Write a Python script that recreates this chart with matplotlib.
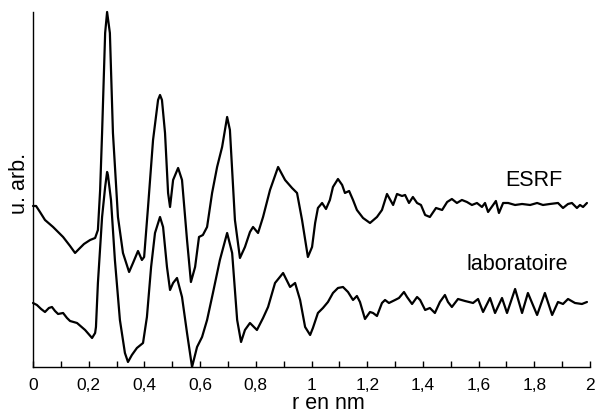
import matplotlib
matplotlib.use("Agg")
import matplotlib.pyplot as plt
from matplotlib.ticker import MultipleLocator, FuncFormatter

plt.rcParams['font.family'] = ['Liberation Sans', 'DejaVu Sans']

# distances r (nm) and intensities (arb. units)
r_esrf = [0.000, 0.011, 0.025, 0.043, 0.072, 0.108, 0.133, 0.151, 0.165, 0.183,
          0.205, 0.223, 0.233, 0.241, 0.248, 0.259, 0.266, 0.276, 0.287, 0.305,
          0.323, 0.345, 0.359, 0.377, 0.391, 0.399, 0.413, 0.431, 0.449, 0.456,
          0.463, 0.474, 0.485, 0.492, 0.503, 0.521, 0.535, 0.553, 0.567, 0.582,
          0.596, 0.610, 0.625, 0.643, 0.661, 0.679, 0.697, 0.707, 0.725, 0.743,
          0.761, 0.779, 0.790, 0.808, 0.826, 0.851, 0.880, 0.905, 0.930, 0.948,
          0.966, 0.987, 1.002, 1.013, 1.023, 1.038, 1.052, 1.066, 1.077, 1.095,
          1.110, 1.120, 1.135, 1.149, 1.163, 1.185, 1.210, 1.235, 1.253, 1.271,
          1.293, 1.307, 1.325, 1.336, 1.350, 1.364, 1.379, 1.393, 1.408, 1.425,
          1.447, 1.469, 1.487, 1.504, 1.522, 1.540, 1.558, 1.576, 1.594, 1.612,
          1.623, 1.634, 1.652, 1.662, 1.673, 1.688, 1.706, 1.731, 1.756, 1.785,
          1.810, 1.831, 1.856, 1.885, 1.903, 1.921, 1.935, 1.953, 1.964, 1.975,
          1.989]
g_esrf = [161, 161, 155, 147, 140, 130, 121, 114, 118, 123,
          127, 129, 137, 177, 234, 334, 355, 334, 234, 150,
          114, 95, 104, 116, 107, 110, 160, 227, 267, 272,
          267, 234, 174, 160, 187, 199, 187, 127, 85, 100,
          130, 132, 140, 174, 200, 220, 250, 237, 147, 109,
          120, 135, 140, 134, 150, 177, 200, 187, 179, 174,
          147, 110, 120, 144, 159, 164, 158, 167, 180, 188,
          182, 174, 176, 167, 157, 149, 144, 150, 157, 173,
          162, 173, 171, 172, 164, 170, 164, 162, 152, 150,
          159, 157, 165, 168, 164, 167, 165, 162, 164, 160,
          164, 155, 162, 166, 154, 164, 164, 162, 163, 162,
          164, 162, 163, 164, 159, 163, 164, 159, 162, 160,
          164]

r_labo = [0.000, 0.014, 0.029, 0.043, 0.057, 0.068, 0.079, 0.090, 0.108, 0.122,
          0.133, 0.158, 0.187, 0.212, 0.223, 0.226, 0.233, 0.248, 0.259, 0.266,
          0.269, 0.280, 0.294, 0.312, 0.330, 0.341, 0.355, 0.373, 0.395, 0.409,
          0.424, 0.438, 0.456, 0.467, 0.481, 0.492, 0.503, 0.517, 0.535, 0.553,
          0.571, 0.589, 0.607, 0.625, 0.646, 0.671, 0.697, 0.715, 0.733, 0.747,
          0.761, 0.779, 0.804, 0.826, 0.844, 0.869, 0.898, 0.923, 0.941, 0.959,
          0.977, 0.995, 1.005, 1.023, 1.041, 1.059, 1.077, 1.095, 1.113, 1.131,
          1.149, 1.163, 1.174, 1.192, 1.210, 1.221, 1.235, 1.253, 1.264, 1.278,
          1.300, 1.314, 1.332, 1.343, 1.361, 1.379, 1.390, 1.408, 1.425, 1.443,
          1.461, 1.479, 1.490, 1.504, 1.515, 1.526, 1.551, 1.580, 1.598, 1.616,
          1.641, 1.659, 1.684, 1.702, 1.731, 1.756, 1.777, 1.810, 1.838, 1.864,
          1.885, 1.903, 1.921, 1.946, 1.971, 1.989]
g_labo = [64, 62, 58, 55, 59, 60, 56, 53, 54, 49,
          46, 44, 37, 29, 34, 40, 84, 150, 180, 195,
          192, 167, 107, 47, 14, 5, 12, 19, 24, 50,
          100, 134, 150, 140, 100, 77, 84, 89, 70, 34,
          0, 20, 30, 47, 74, 107, 134, 114, 47, 25,
          37, 44, 37, 49, 60, 84, 94, 80, 84, 67,
          40, 32, 39, 54, 59, 65, 74, 79, 80, 75,
          67, 71, 65, 48, 55, 54, 51, 64, 67, 64,
          67, 69, 75, 70, 63, 70, 67, 57, 59, 54,
          65, 72, 65, 60, 64, 68, 66, 64, 68, 55,
          69, 54, 69, 54, 78, 54, 74, 52, 74, 52,
          65, 63, 68, 64, 63, 65]

fig = plt.figure(figsize=(5.97, 4.13), dpi=100)
ax = fig.add_axes([0.0553, 0.1114, 0.9330, 0.8596])

ax.plot(r_esrf, g_esrf, color='black', lw=1.6, clip_on=False,
        solid_joinstyle='round', solid_capstyle='round')
ax.plot(r_labo, g_labo, color='black', lw=1.6, clip_on=False,
        solid_joinstyle='round', solid_capstyle='round')

ax.set_xlim(0, 2)
ax.set_ylim(0, 355)
ax.spines['top'].set_visible(False)
ax.spines['right'].set_visible(False)
ax.spines['left'].set_linewidth(1.0)
ax.spines['bottom'].set_linewidth(1.0)
ax.set_yticks([])

ax.xaxis.set_major_locator(MultipleLocator(0.2))
ax.xaxis.set_minor_locator(MultipleLocator(0.1))
ax.xaxis.set_major_formatter(FuncFormatter(lambda v, p: ('%g' % round(v, 1)).replace('.', ',')))
ax.tick_params(axis='x', which='both', direction='in', length=4, width=1.0,
               labelsize=12.5, pad=8)

ax.set_xlabel('r en nm', fontsize=15.5)
ax.xaxis.set_label_coords(0.53, -0.074)
ax.set_ylabel('u. arb.', fontsize=15.5)
ax.yaxis.set_label_coords(-0.006, 0.518)

ax.text(1.695, 186, 'ESRF', fontsize=15.5, va='center', ha='left')
ax.text(1.558, 102, 'laboratoire', fontsize=15.5, va='center', ha='left')

fig.savefig('out.png', dpi=100)
